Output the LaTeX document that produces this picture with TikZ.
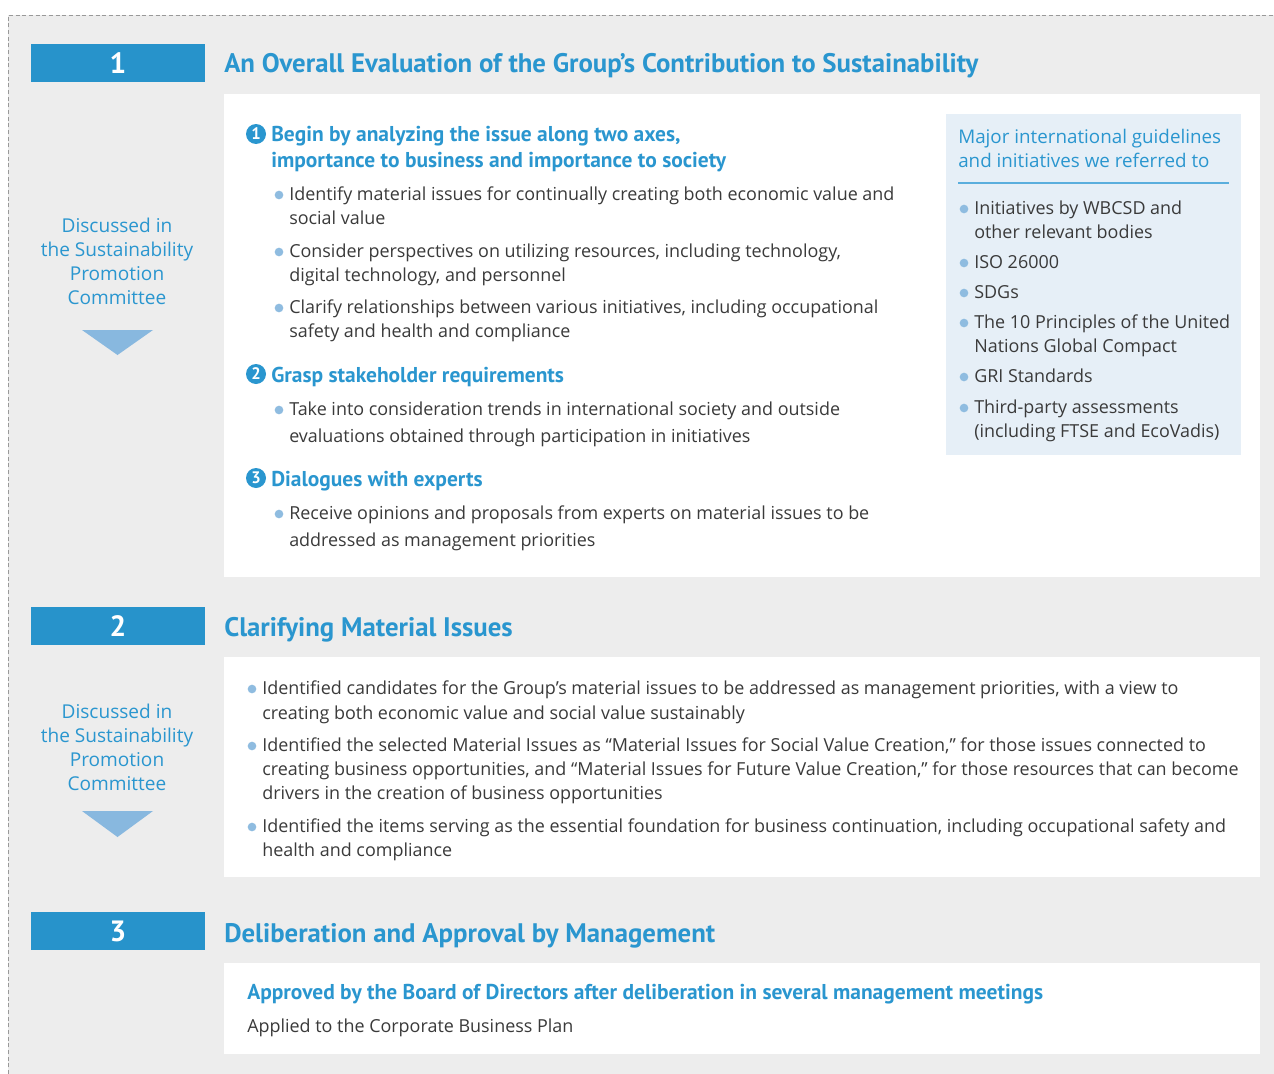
\documentclass[tikz,border=0pt]{standalone}
\usepackage{fontspec}
\setmainfont{Open Sans}
\newfontfamily\headfont{PT Sans}
\definecolor{barblue}{HTML}{2793CB}
\definecolor{titleblue}{HTML}{2A96CF}
\definecolor{bodygray}{HTML}{3A3A3A}
\definecolor{dotblue}{HTML}{8FBCE0}
\definecolor{panelgray}{HTML}{EDEDED}
\definecolor{guideblue}{HTML}{E6EFF7}
\definecolor{arrowblue}{HTML}{88B8DF}
\definecolor{ruleblue}{HTML}{5AAEDD}
\tikzstyle{numbar}=[rectangle,fill=barblue,text=white,minimum width=130.5pt,minimum height=28.5pt,inner sep=0pt,font=\headfont\bfseries\fontsize{22}{22}\selectfont]
\tikzstyle{sectitle}=[anchor=base west,inner sep=0pt,text=titleblue,font=\headfont\bfseries\fontsize{20.1}{22}\selectfont]
\tikzstyle{subhead}=[anchor=base west,inner sep=0pt,text=titleblue,font=\headfont\bfseries\fontsize{16.1}{18}\selectfont]
\tikzstyle{bodyline}=[anchor=base west,inner sep=0pt,text=bodygray,font=\fontsize{13.45}{18}\selectfont]
\tikzstyle{guidehead}=[anchor=base west,inner sep=0pt,text=titleblue,font=\fontsize{14.1}{18}\selectfont]
\tikzstyle{discnote}=[anchor=base,inner sep=0pt,text=titleblue,font=\fontsize{14.3}{18}\selectfont]
\tikzstyle{bulletdot}=[circle,fill=dotblue,inner sep=0pt,minimum size=6.5pt]
\tikzstyle{numdot}=[circle,fill=titleblue,text=white,inner sep=0pt,minimum size=15pt,font=\headfont\bfseries\fontsize{12.5}{12.5}\selectfont]

\begin{document}
\begin{tikzpicture}[x=0.75pt,y=-0.75pt]
    \useasboundingbox (0,0) rectangle (1274,1074);
    % grey panel and white boxes
    \fill[panelgray] (8,15) rectangle (1274,1074);
    \draw[black!40,dash pattern=on 3pt off 2pt] (8,1074) -- (8,15) -- (1274,15);
    \fill[white] (224,94) rectangle (1260,577);
    \fill[white] (224,657) rectangle (1260,877);
    \fill[white] (224,963) rectangle (1260,1054);
    \fill[guideblue] (946,114) rectangle (1241,455);

    % numbered bars and section titles
    \foreach \n/\y in {1/63,2/626,3/931} {
        \node[numbar] (bar\n) at (118,\y) {\n};
    };
    \node[sectitle] (title1) at (224,73) {An Overall Evaluation of the Group’s Contribution to Sustainability};
    \node[sectitle] (title2) at (224,636) {Clarifying Material Issues};
    \node[sectitle] (title3) at (224,942) {Deliberation and Approval by Management};

    % left column notes
    \foreach \s/\y in {a/226,b/712} {
        \foreach \t [count=\k] in {Discussed in,the Sustainability,Promotion,Committee} {
            \node[discnote] (note\s\k) at (117,\y+24*\k-18) {\t};
        };
    };
    \fill[arrowblue] (82,330) -- (153,330) -- (117.5,355) -- cycle;
    \fill[arrowblue] (82,811) -- (153,811) -- (117.5,837) -- cycle;

    % section 1, three steps
    \foreach \n/\y in {1/134,2/374,3/478} {
        \node[numdot] (step\n) at (256,\y) {\n};
    };
    \node[subhead] (head1a) at (271,141) {Begin by analyzing the issue along two axes,};
    \node[subhead] (head1b) at (271,167) {importance to business and importance to society};
    \node[subhead] (head2) at (271,382) {Grasp stakeholder requirements};
    \node[subhead] (head3) at (271,486) {Dialogues with experts};
    \foreach \y in {195,252,308,410,514} {
        \node[bulletdot] (dota\y) at (279,\y) {};
    };
    \foreach \y/\t in {200/{Identify material issues for continually creating both economic value and},
                       224/{social value},
                       257/{Consider perspectives on utilizing resources, including technology,},
                       281/{digital technology, and personnel},
                       313/{Clarify relationships between various initiatives, including occupational},
                       337/{safety and health and compliance},
                       415/{Take into consideration trends in international society and outside},
                       442/{evaluations obtained through participation in initiatives},
                       519/{Receive opinions and proposals from experts on material issues to be},
                       546/{addressed as management priorities}} {
        \node[bodyline] (linea\y) at (289,\y) {\t};
    };

    % guidelines box
    \node[guidehead] (guide1) at (958,143) {Major international guidelines};
    \node[guidehead] (guide2) at (958,167) {and initiatives we referred to};
    \draw[ruleblue,line width=1pt] (958,183) -- (1229,183);
    \foreach \y in {209,263,293,323,377,408} {
        \node[bulletdot] (dotg\y) at (964,\y) {};
    };
    \foreach \y/\t in {214/{Initiatives by WBCSD and},
                       238/{other relevant bodies},
                       268/{ISO 26000},
                       298/{SDGs},
                       328/{The 10 Principles of the United},
                       352/{Nations Global Compact},
                       382/{GRI Standards},
                       413/{Third-party assessments},
                       437/{(including FTSE and EcoVadis)}} {
        \node[bodyline] (lineg\y) at (974,\y) {\t};
    };

    % section 2
    \foreach \y in {689,746,827} {
        \node[bulletdot] (dotb\y) at (252,\y) {};
    };
    \foreach \y/\t in {694/{Identified candidates for the Group’s material issues to be addressed as management priorities, with a view to},
                       719/{creating both economic value and social value sustainably},
                       751/{Identified the selected Material Issues as “Material Issues for Social Value Creation,” for those issues connected to},
                       775/{creating business opportunities, and “Material Issues for Future Value Creation,” for those resources that can become},
                       799/{drivers in the creation of business opportunities},
                       832/{Identified the items serving as the essential foundation for business continuation, including occupational safety and},
                       856/{health and compliance}} {
        \node[bodyline] (lineb\y) at (262,\y) {\t};
    };

    % section 3
    \node[subhead] (approved) at (247,999) {Approved by the Board of Directors after deliberation in several management meetings};
    \node[bodyline] (applied) at (247,1032) {Applied to the Corporate Business Plan};
\end{tikzpicture}
\end{document}
